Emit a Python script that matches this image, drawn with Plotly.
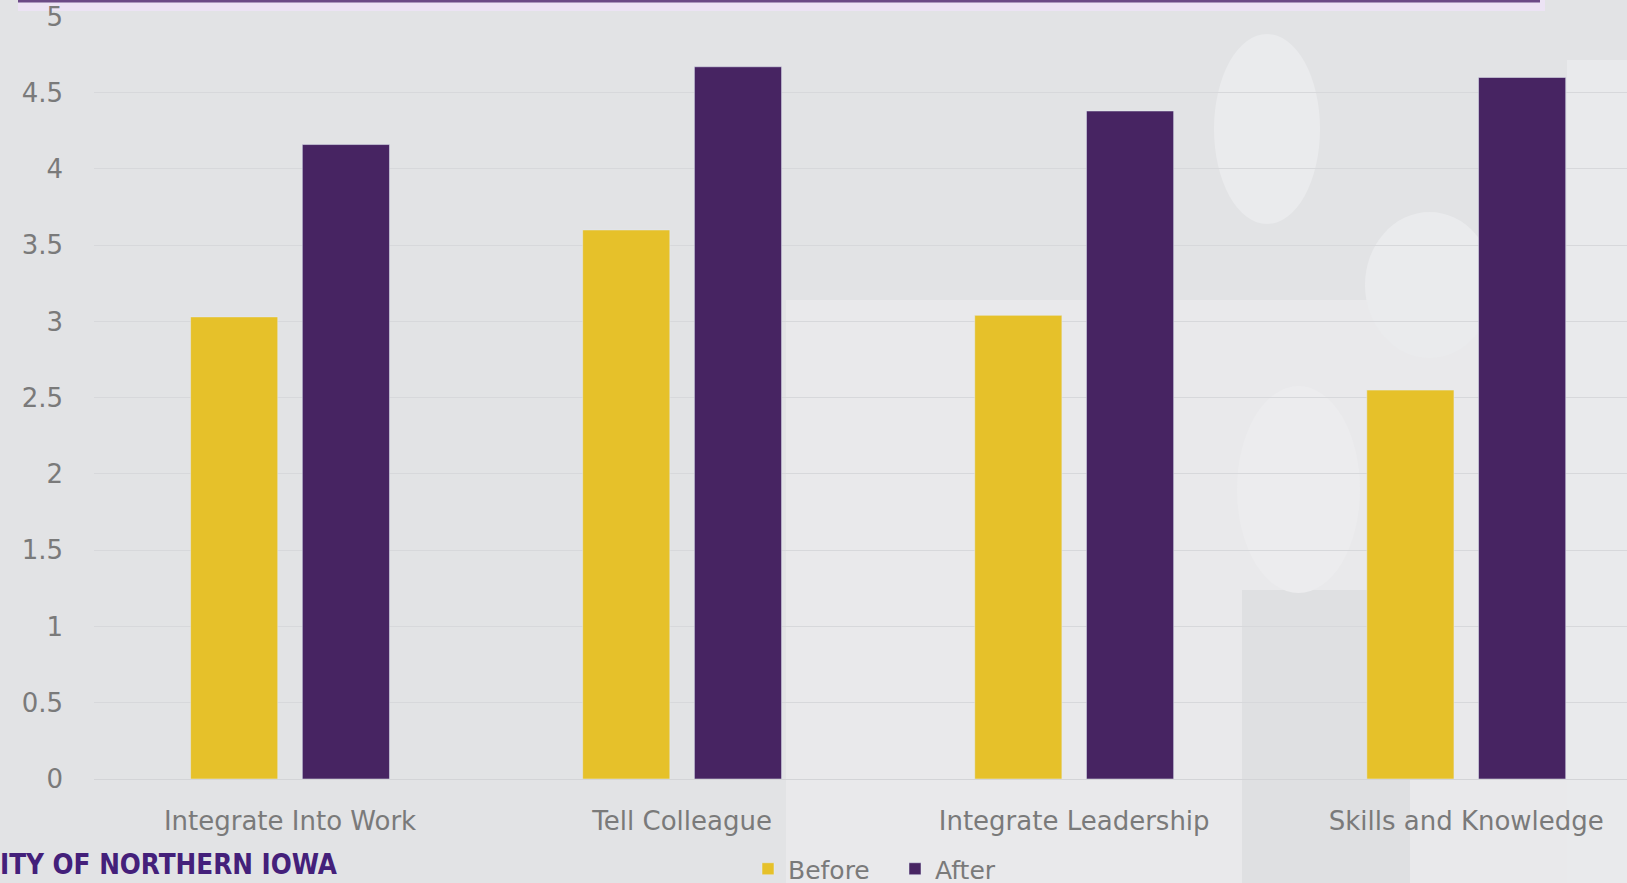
import plotly.graph_objects as go

categories = ["Integrate Into Work", "Tell Colleague", "Integrate Leadership", "Skills and Knowledge"]
before_vals = [3.03, 3.60, 3.04, 2.55]
after_vals = [4.16, 4.67, 4.38, 4.60]
y_ticks = [0, 0.5, 1, 1.5, 2, 2.5, 3, 3.5, 4, 4.5, 5]
y_tick_text = ["0", "0.5", "1", "1.5", "2", "2.5", "3", "3.5", "4", "4.5", "5"]

W, H = 1627, 883
L, R, T, B = 94, 0, 16, 104
BG = "#e2e3e5"
TXT = "#7a7a7a"

fig = go.Figure()
fig.add_trace(go.Bar(name="Before", x=categories, y=before_vals, marker_color="#e6c12a"))
fig.add_trace(go.Bar(name="After", x=categories, y=after_vals, marker_color="#472462"))

def px(x):
    return (x - L) / (W - L - R)
def py(y):
    return 1 - (y - T) / (H - T - B)

def rect(x0, y0, x1, y1, color, layer="below"):
    return dict(type="rect", xref="paper", yref="paper", x0=px(x0), x1=px(x1), y0=py(y1), y1=py(y0),
                fillcolor=color, line=dict(width=0), layer=layer)
def oval(x0, y0, x1, y1, color):
    return dict(type="circle", xref="paper", yref="paper", x0=px(x0), x1=px(x1), y0=py(y1), y1=py(y0),
                fillcolor=color, line=dict(width=0), layer="below")

shapes = [
    # faint watermark approximation
    rect(786, 300, 1627, 883, "#e9e9eb"),
    rect(1242, 590, 1410, 883, "#dfe0e2"),
    oval(1214, 34, 1320, 224, "#eaebed"),
    oval(1365, 212, 1494, 358, "#eaebed"),
    oval(1237, 386, 1360, 593, "#ececee"),
    rect(1567, 60, 1627, 883, "#e9eaec"),
    # top purple border
    rect(18, -4, 1545, 11, "#ece3f4", layer="below"),
    dict(type="line", xref="paper", yref="paper", x0=px(18), x1=px(1540), y0=py(1), y1=py(1),
         line=dict(color="#6b4a86", width=3), layer="above"),
]

fig.update_layout(
    width=W, height=H,
    autosize=False,
    margin=dict(l=L, r=R, t=T, b=B, pad=0),
    paper_bgcolor=BG,
    plot_bgcolor="rgba(0,0,0,0)",
    barmode="group",
    bargap=0.43,
    bargroupgap=0.22,
    shapes=shapes,
    showlegend=True,
    legend=dict(orientation="h", xref="container", yref="container", x=748 / W, xanchor="left",
                y=1 - 869 / H, yanchor="middle",
                font=dict(family="DejaVu Sans", size=25, color=TXT), bgcolor="rgba(0,0,0,0)",
                traceorder="normal", entrywidth=102, entrywidthmode="pixels"),
    annotations=[dict(text="<b>ITY OF NORTHERN IOWA</b>", xref="paper", yref="paper", x=px(-2), y=py(864),
                      xanchor="left", yanchor="middle", showarrow=False,
                      font=dict(family="DejaVu Sans Condensed", size=27.5, color="#44207a"))],
)
fig.update_xaxes(range=[-0.5, 3.41], showgrid=False, showline=False, ticks="", automargin=False,
                 tickfont=dict(family="DejaVu Sans", size=26, color=TXT), ticklabelstandoff=24)
fig.update_yaxes(range=[0, 5.003], tickvals=y_ticks, ticktext=y_tick_text, showgrid=True, automargin=False,
                 gridcolor="#d7d8db", gridwidth=1, zeroline=True, zerolinecolor="#d3d4d7", zerolinewidth=1,
                 showline=False, ticks="",
                 tickfont=dict(family="DejaVu Sans", size=26, color=TXT), ticklabelstandoff=30)

fig.write_html("out.html", config={"displayModeBar": False},
               post_script="document.body.style.margin='0';document.body.style.background='%s';" % BG)
